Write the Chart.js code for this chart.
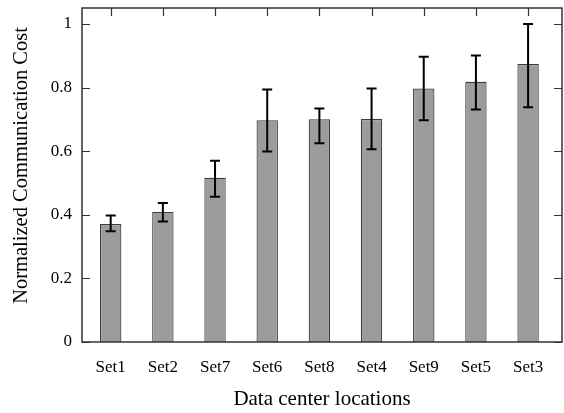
<!DOCTYPE html>
<html lang="en">
<head>
  <meta charset="UTF-8">
  <title>Normalized Communication Cost</title>
  <script src="https://cdn.jsdelivr.net/npm/chart.js"></script>
  <style>
    html, body { margin: 0; padding: 0; background: #fff; }
    #wrap { width: 564px; height: 413px; position: relative; }
  </style>
</head>
<body>
  <div id="wrap">
    <canvas id="costChart"></canvas>
  </div>

  <script>
    // categories (in plotted order)
    const categories = ["Set1", "Set2", "Set7", "Set6", "Set8", "Set4", "Set9", "Set5", "Set3"];
    // mean normalized cost per set
    const meanCost = [0.371, 0.409, 0.516, 0.697, 0.700, 0.701, 0.797, 0.818, 0.874];
    // error bar ends
    const errLow  = [0.348, 0.379, 0.457, 0.599, 0.625, 0.606, 0.697, 0.731, 0.738];
    const errHigh = [0.398, 0.437, 0.570, 0.794, 0.734, 0.797, 0.897, 0.901, 1.000];
    // y tick labels
    const yTicks = [0, 0.2, 0.4, 0.6, 0.8, 1];

    const yTitle = 'Normalized Communication Cost';
    const serif = "'Liberation Serif', 'Times New Roman', serif";

    // frame, inside tick marks, error bars and the y title
    const framePlugin = {
      id: 'frameAndErrors',
      afterDatasetsDraw(chart) {
        const ctx = chart.ctx;
        const area = chart.chartArea;
        const xs = chart.scales.x;
        const ys = chart.scales.y;
        ctx.save();

        // error bars
        ctx.strokeStyle = '#000';
        ctx.lineWidth = 2;
        ctx.lineCap = 'butt';
        categories.forEach((c, i) => {
          const x = xs.getPixelForValue(i);
          const yl = ys.getPixelForValue(errLow[i]);
          const yh = ys.getPixelForValue(errHigh[i]);
          ctx.beginPath();
          ctx.moveTo(x, yl); ctx.lineTo(x, yh);
          ctx.moveTo(x - 5, yl); ctx.lineTo(x + 5, yl);
          ctx.moveTo(x - 5, yh); ctx.lineTo(x + 5, yh);
          ctx.stroke();
        });

        // tick marks (inside, mirrored)
        ctx.strokeStyle = '#333';
        ctx.lineWidth = 1.2;
        ctx.beginPath();
        yTicks.forEach(v => {
          const y = Math.round(ys.getPixelForValue(v)) + 0.5;
          ctx.moveTo(area.left, y); ctx.lineTo(area.left + 8, y);
          ctx.moveTo(area.right, y); ctx.lineTo(area.right - 8, y);
        });
        categories.forEach((c, i) => {
          const x = Math.round(xs.getPixelForValue(i)) + 0.5;
          ctx.moveTo(x, area.top); ctx.lineTo(x, area.top + 8);
        });
        ctx.stroke();

        // frame
        ctx.lineWidth = 1.5;
        ctx.strokeRect(area.left, area.top, area.right - area.left, area.bottom - area.top);

        // y axis title, sits a bit above the plot centre like the original
        ctx.translate(21.5, 165.5);
        ctx.rotate(-Math.PI / 2);
        ctx.fillStyle = '#000';
        ctx.font = "20.5px " + serif;
        ctx.textAlign = 'center';
        ctx.textBaseline = 'middle';
        ctx.fillText(yTitle, 0, 0);
        ctx.restore();
      }
    };

    const ctx = document.getElementById('costChart').getContext('2d');
    const costChart = new Chart(ctx, {
      type: 'bar',
      data: {
        datasets: [{
          label: yTitle,
          data: meanCost.map((v, i) => ({ x: i, y: v })),
          backgroundColor: '#9c9c9c',
          borderColor: '#3c3c3c',
          borderWidth: 1.2,
          barPercentage: 0.41,
          categoryPercentage: 1.0
        }]
      },
      options: {
        responsive: true,
        maintainAspectRatio: false,
        animation: false,
        layout: { padding: { top: 8, right: 2, left: 0, bottom: 0 } },
        plugins: {
          legend: { display: false },
          tooltip: { enabled: false }
        },
        scales: {
          x: {
            type: 'linear',
            offset: false,
            min: -0.55,
            max: 8.65,
            grid: { display: false, drawTicks: false, offset: false },
            border: { display: false },
            afterBuildTicks: scale => {
              scale.ticks = categories.map((c, i) => ({ value: i }));
            },
            afterFit: scale => {
              scale.height = 71;
              scale.paddingLeft = 0;
              scale.paddingRight = 0;
            },
            ticks: {
              autoSkip: false,
              maxRotation: 0,
              padding: 15,
              color: '#000',
              font: { family: serif, size: 17 },
              callback: v => categories[v]
            },
            title: {
              display: true,
              text: 'Data center locations',
              color: '#000',
              font: { family: serif, size: 21 },
              padding: { top: 0, bottom: 1 }
            }
          },
          y: {
            min: 0,
            max: 1.05,
            grid: { display: false, drawTicks: false },
            border: { display: false },
            afterBuildTicks: scale => {
              scale.ticks = yTicks.map(v => ({ value: v }));
            },
            afterFit: scale => {
              scale.width = 82;
              scale.paddingTop = 0;
              scale.paddingBottom = 0;
            },
            ticks: {
              padding: 10,
              color: '#000',
              font: { family: serif, size: 17 },
              callback: v => String(v)
            },
            title: { display: false }
          }
        }
      },
      plugins: [framePlugin]
    });
  </script>
</body>
</html>
